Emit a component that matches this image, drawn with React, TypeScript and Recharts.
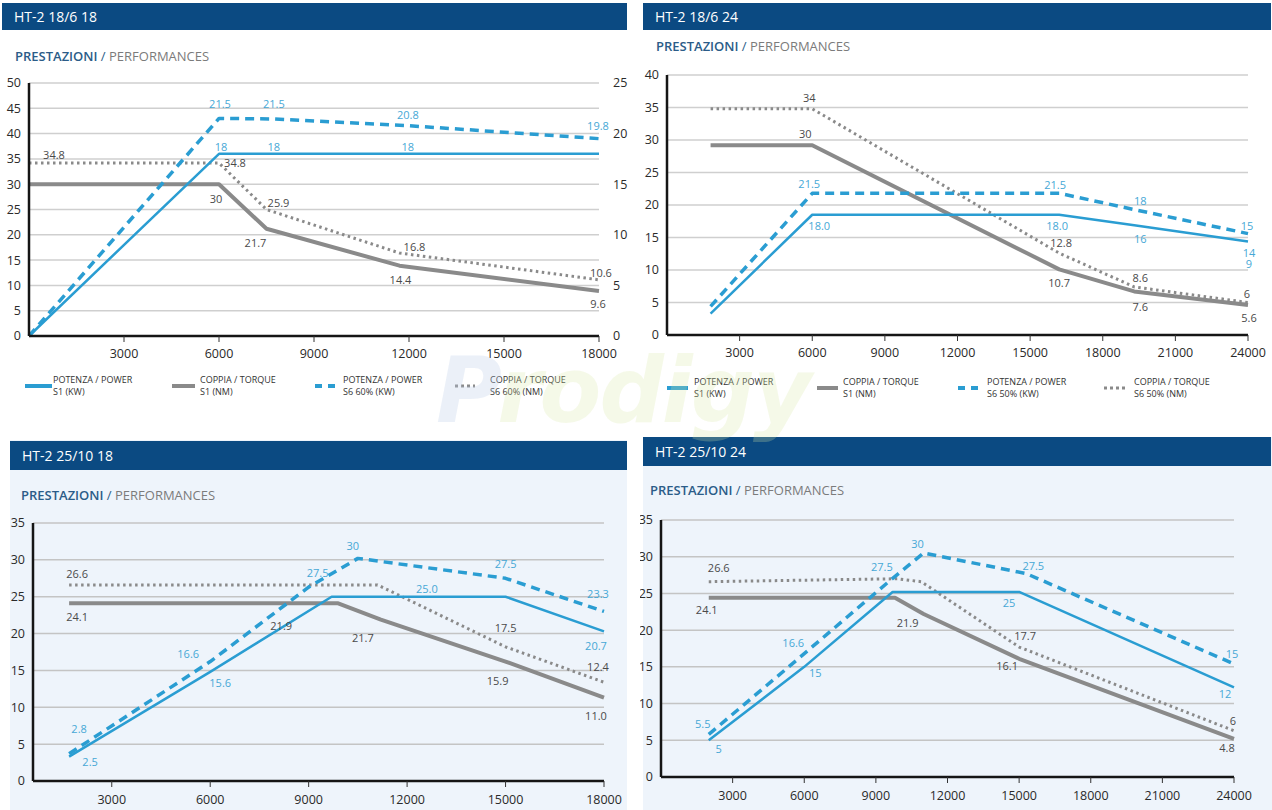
import React from 'react';
import { LineChart, Line, XAxis, YAxis, CartesianGrid } from 'recharts';

const FONT = "'Open Sans', 'DejaVu Sans', sans-serif";
const BLUE = '#2a9dd2';
const GRAY = '#8a8a8a';
const LBL_BLUE = '#46a8d6';
const LBL_GRAY = '#4a4a4a';
const NAVY = '#0b4a82';

// ---------- Panel A : HT-2 18/6 18 ----------
const A_TITLE = 'HT-2 18/6 18';
const A_X_TICKS = [3000, 6000, 9000, 12000, 15000, 18000];
const A_Y_TICKS = [0, 5, 10, 15, 20, 25, 30, 35, 40, 45, 50];
const A_Y2_TICKS = [0, 5, 10, 15, 20, 25];
const A_P1_X = [0, 6000, 7700, 11900, 18000];
const A_P1_Y = [0, 18, 18, 18, 18];
const A_P1_L = ['', '18', '18', '18', ''];
const A_P6_X = [0, 6000, 7700, 11900, 18000];
const A_P6_Y = [0, 21.5, 21.45, 20.8, 19.5];
const A_P6_L = ['', '21.5', '21.5', '20.8', '19.8'];
const A_T1_X = [0, 6000, 7500, 11700, 18000];
const A_T1_Y = [30, 30, 21.2, 13.9, 8.9];
const A_T1_L = ['', '30', '21.7', '14.4', '9.6'];
const A_T6_X = [0, 6000, 7500, 11700, 18000];
const A_T6_Y = [34.2, 34.2, 25.0, 16.4, 11.1];
const A_T6_L = ['34.8', '34.8', '25.9', '16.8', '10.6'];

// ---------- Panel B : HT-2 18/6 24 ----------
const B_TITLE = 'HT-2 18/6 24';
const B_X_TICKS = [3000, 6000, 9000, 12000, 15000, 18000, 21000, 24000];
const B_Y_TICKS = [0, 5, 10, 15, 20, 25, 30, 35, 40];
const B_RPM = [1800, 6000, 16200, 19300, 24000];
const B_P1_Y = [3.3, 18.5, 18.5, 16.9, 14.4];
const B_P1_L = ['', '18.0', '18.0', '16', '14\n9'];
const B_P6_Y = [4.4, 21.8, 21.8, 19.3, 15.6];
const B_P6_L = ['', '21.5', '21.5', '18', '15'];
const B_T1_Y = [29.2, 29.2, 10.1, 6.7, 4.6];
const B_T1_L = ['', '30', '10.7', '7.6', '5.6'];
const B_T6_Y = [34.8, 34.8, 12.6, 7.4, 5.0];
const B_T6_L = ['', '34', '12.8', '8.6', '6'];

// ---------- Panel C : HT-2 25/10 18 ----------
const C_TITLE = 'HT-2 25/10 18';
const C_X_TICKS = [3000, 6000, 9000, 12000, 15000, 18000];
const C_Y_TICKS = [0, 5, 10, 15, 20, 25, 30, 35];
const C_P1_X = [1700, 6000, 9700, 12600, 15000, 18000];
const C_P1_Y = [3.3, 14.8, 25, 25, 25, 20.3];
const C_P1_L = ['2.5', '15.6', '', '25.0', '', '20.7'];
const C_P6_X = [1700, 6000, 9000, 10500, 15000, 18000];
const C_P6_Y = [3.7, 16.2, 26.3, 30.2, 27.5, 23.0];
const C_P6_L = ['2.8', '16.6', '27.5', '30', '27.5', '23.3'];
const C_T1_X = [1700, 9900, 11200, 15000, 18000];
const C_T1_Y = [24.1, 24.1, 21.9, 16.2, 11.3];
const C_T1_L = ['24.1', '21.9', '21.7', '15.9', '11.0'];
const C_T6_X = [1700, 11100, 15000, 18000];
const C_T6_Y = [26.6, 26.6, 18.2, 13.4];
const C_T6_L = ['26.6', '', '17.5', '12.4'];

// ---------- Panel D : HT-2 25/10 24 ----------
const D_TITLE = 'HT-2 25/10 24';
const D_X_TICKS = [3000, 6000, 9000, 12000, 15000, 18000, 21000, 24000];
const D_Y_TICKS = [0, 5, 10, 15, 20, 25, 30, 35];
const D_P1_X = [2000, 6000, 9700, 15000, 24000];
const D_P1_Y = [5.0, 15.0, 25.2, 25.2, 12.2];
const D_P1_L = ['5', '15', '', '25', '12'];
const D_P6_X = [2000, 6000, 9500, 11000, 15300, 24000];
const D_P6_Y = [5.8, 16.8, 26.5, 30.5, 27.7, 15.4];
const D_P6_L = ['5.5', '16.6', '27.5', '30', '27.5', '15'];
const D_T1_X = [2000, 9800, 11000, 15000, 24000];
const D_T1_Y = [24.4, 24.4, 22.2, 16.1, 5.2];
const D_T1_L = ['24.1', '', '21.9', '16.1', '4.8'];
const D_T6_X = [2000, 9900, 10900, 15000, 24000];
const D_T6_Y = [26.6, 27.0, 26.6, 17.7, 6.3];
const D_T6_L = ['26.6', '', '', '17.7', '6'];

// Legend texts
const LEG_A = [
  ['POTENZA / POWER', 'S1 (KW)'],
  ['COPPIA / TORQUE', 'S1 (NM)'],
  ['POTENZA / POWER', 'S6 60% (KW)'],
  ['COPPIA / TORQUE', 'S6 60% (NM)'],
];
const LEG_B = [
  ['POTENZA / POWER', 'S1 (KW)'],
  ['COPPIA / TORQUE', 'S1 (NM)'],
  ['POTENZA / POWER', 'S6 50% (KW)'],
  ['COPPIA / TORQUE', 'S6 50% (NM)'],
];

// ---------- label placement (pixel offsets, style only) ----------
const A_P1_O = [[0, 0], [2, -8], [1, -8], [2, -8], [0, 0]];
const A_P6_O = [[0, 0], [1, -15], [1, -16], [2, -12], [-1, -14]];
const A_T1_O = [[0, 0], [-3, 14], [-11, 13], [1, 13], [-1, 12]];
const A_T6_O = [[25, -9], [16, -1], [12, -8], [15, -7], [2, -8]];
const B_P1_O = [[0, 0], [7, 10], [-2, 10], [6, 13], [1, 11]];
const B_P6_O = [[0, 0], [-3, -10], [-4, -9], [6, -10], [-1, -9]];
const B_T1_O = [[0, 0], [-7, -12], [0, 13], [6, 15], [1, 12]];
const B_T6_O = [[0, 0], [-3, -12], [2, -11], [6, -10], [-1, -10]];
const C_P1_O = [[21, 4], [10, 10], [0, 0], [0, -9], [0, 0], [-8, 14]];
const C_P6_O = [[10, -26], [-22, -9], [9, -15], [-5, -13], [0, -15], [-6, -18]];
const C_T1_O = [[8, 13], [-57, 22], [-18, 17], [-8, 18], [-8, 17]];
const C_T6_O = [[8, -12], [0, 0], [0, -20], [-6, -16]];
const D_P1_O = [[10, 8], [11, 5], [0, 0], [-10, 10], [-9, 6]];
const D_P6_O = [[-6, -11], [-11, -12], [-6, -16], [-6, -10], [7, -9], [-2, -11]];
const D_T1_O = [[-2, 11], [0, 0], [-16, 8], [-12, 6], [-7, 8]];
const D_T6_O = [[10, -15], [0, 0], [0, 0], [6, -12], [-1, -11]];

type Kind = 'p1' | 't1' | 'p6' | 't6';
interface S {
  kind: Kind;
  xs: number[];
  ys: number[];
  labels: string[];
  offs: number[][];
  yAxisId?: string | number;
}

const STYLE: Record<Kind, { stroke: string; strokeWidth: number; dash?: string; lbl: string }> = {
  p1: { stroke: BLUE, strokeWidth: 2.5, lbl: LBL_BLUE },
  t1: { stroke: GRAY, strokeWidth: 4, lbl: LBL_GRAY },
  p6: { stroke: BLUE, strokeWidth: 3.5, dash: '9 6', lbl: LBL_BLUE },
  t6: { stroke: GRAY, strokeWidth: 3, dash: '2.5 3.5', lbl: LBL_GRAY },
};

function labelDot(s: S) {
  const color = STYLE[s.kind].lbl;
  return (p: any) => {
    const { cx, cy, index } = p;
    const t = s.labels[index];
    if (!t || cx == null || cy == null) return <g key={`e${index}`} />;
    const [dx, dy] = s.offs[index] || [0, 0];
    const parts = t.split('\n');
    return (
      <text
        key={`t${index}`}
        x={cx + dx}
        y={cy + dy}
        textAnchor="middle"
        dominantBaseline="central"
        fill={color}
        fontSize={11}
        fontFamily={FONT}
      >
        {parts.map((q, i) => (
          <tspan key={i} x={cx + dx} dy={i === 0 ? 0 : 11}>
            {q}
          </tspan>
        ))}
      </text>
    );
  };
}

function lines(series: S[]) {
  return series.map((s, i) => {
    const st = STYLE[s.kind];
    const data = s.xs.map((x, j) => ({ x, y: s.ys[j] }));
    return (
      <Line
        key={i}
        data={data}
        dataKey="y"
        type="linear"
        yAxisId={s.yAxisId ?? 0}
        stroke={st.stroke}
        strokeWidth={st.strokeWidth}
        strokeDasharray={st.dash}
        dot={labelDot(s)}
        activeDot={false}
        isAnimationActive={false}
        strokeLinejoin="round"
      />
    );
  });
}

const tickStyle = { fill: '#2a2a2a', fontSize: 12.5, fontFamily: FONT };
const axisLineStyle = { stroke: '#151515', strokeWidth: 2.5 };

function Header({ left, top, width, height, title }: any) {
  return (
    <div
      style={{
        position: 'absolute',
        left,
        top,
        width,
        height,
        background: NAVY,
        color: '#fff',
        fontFamily: FONT,
        fontSize: 14,
        lineHeight: `${height}px`,
        paddingLeft: 12,
        boxSizing: 'border-box',
        whiteSpace: 'nowrap',
      }}
    >
      {title}
    </div>
  );
}

function Subtitle({ left, top }: any) {
  return (
    <div
      style={{
        position: 'absolute',
        left,
        top,
        fontFamily: FONT,
        fontSize: 13,
        lineHeight: '16px',
        whiteSpace: 'nowrap',
      }}
    >
      <span style={{ color: '#2b5c88', fontWeight: 600 }}>PRESTAZIONI</span>
      <span style={{ color: '#2b5c88' }}> / </span>
      <span style={{ color: '#7b7b7b' }}>PERFORMANCES</span>
    </div>
  );
}

function LegendIcon({ kind, width }: { kind: Kind; width: number }) {
  const st = STYLE[kind];
  const dash = kind === 'p6' ? '7 6' : kind === 't6' ? '3 3' : undefined;
  return (
    <svg width={width} height={6} style={{ display: 'block' }}>
      <line x1={0} y1={3} x2={width} y2={3} stroke={st.stroke} strokeWidth={kind === 't6' ? 3 : 4} strokeDasharray={dash} />
    </svg>
  );
}

function Legend({ items, iconX, iconW, textX, top }: any) {
  const kinds: Kind[] = ['p1', 't1', 'p6', 't6'];
  return (
    <>
      {items.map((it: string[], i: number) => (
        <React.Fragment key={i}>
          <div style={{ position: 'absolute', left: iconX[i], top: top + 9 }}>
            <LegendIcon kind={kinds[i]} width={iconW[i]} />
          </div>
          <div
            style={{
              position: 'absolute',
              left: textX[i],
              top: top,
              fontFamily: FONT,
              fontSize: 9,
              lineHeight: '12px',
              color: '#333',
              whiteSpace: 'nowrap',
            }}
          >
            <div>{it[0]}</div>
            <div>{it[1]}</div>
          </div>
        </React.Fragment>
      ))}
    </>
  );
}

export default function App() {
  const seriesA: S[] = [
    { kind: 't1', xs: A_T1_X, ys: A_T1_Y, labels: A_T1_L, offs: A_T1_O },
    { kind: 't6', xs: A_T6_X, ys: A_T6_Y, labels: A_T6_L, offs: A_T6_O },
    { kind: 'p1', xs: A_P1_X, ys: A_P1_Y, labels: A_P1_L, offs: A_P1_O, yAxisId: 'r' },
    { kind: 'p6', xs: A_P6_X, ys: A_P6_Y, labels: A_P6_L, offs: A_P6_O, yAxisId: 'r' },
  ];
  const seriesB: S[] = [
    { kind: 't1', xs: B_RPM, ys: B_T1_Y, labels: B_T1_L, offs: B_T1_O },
    { kind: 't6', xs: B_RPM, ys: B_T6_Y, labels: B_T6_L, offs: B_T6_O },
    { kind: 'p1', xs: B_RPM, ys: B_P1_Y, labels: B_P1_L, offs: B_P1_O },
    { kind: 'p6', xs: B_RPM, ys: B_P6_Y, labels: B_P6_L, offs: B_P6_O },
  ];
  const seriesC: S[] = [
    { kind: 't1', xs: C_T1_X, ys: C_T1_Y, labels: C_T1_L, offs: C_T1_O },
    { kind: 't6', xs: C_T6_X, ys: C_T6_Y, labels: C_T6_L, offs: C_T6_O },
    { kind: 'p1', xs: C_P1_X, ys: C_P1_Y, labels: C_P1_L, offs: C_P1_O },
    { kind: 'p6', xs: C_P6_X, ys: C_P6_Y, labels: C_P6_L, offs: C_P6_O },
  ];
  const seriesD: S[] = [
    { kind: 't1', xs: D_T1_X, ys: D_T1_Y, labels: D_T1_L, offs: D_T1_O },
    { kind: 't6', xs: D_T6_X, ys: D_T6_Y, labels: D_T6_L, offs: D_T6_O },
    { kind: 'p1', xs: D_P1_X, ys: D_P1_Y, labels: D_P1_L, offs: D_P1_O },
    { kind: 'p6', xs: D_P6_X, ys: D_P6_Y, labels: D_P6_L, offs: D_P6_O },
  ];

  const xAxisCommon = {
    type: 'number' as const,
    dataKey: 'x',
    interval: 0 as const,
    tickSize: 6,
    axisLine: axisLineStyle,
    tickLine: { stroke: '#333', strokeWidth: 1 },
    tick: tickStyle,
  };
  const yAxisCommon = {
    type: 'number' as const,
    interval: 0 as const,
    tickSize: 6,
    tickMargin: 2,
    tickLine: false,
    axisLine: axisLineStyle,
    tick: tickStyle,
  };

  return (
    <div style={{ position: 'absolute', left: 0, top: 0, width: 1272, height: 810, background: '#fff', overflow: 'hidden' }}>
      {/* backgrounds for the lower panels */}
      <div style={{ position: 'absolute', left: 10, top: 440, width: 617, height: 370, background: '#eef4fb' }} />
      <div style={{ position: 'absolute', left: 643, top: 437, width: 629, height: 373, background: '#eef4fb' }} />

      {/* Panel A */}
      <Header left={2} top={3} width={625} height={27} title={A_TITLE} />
      <Subtitle left={15} top={48} />
      <div style={{ position: 'absolute', left: 0, top: 70 }}>
        <LineChart width={640} height={300} margin={{ top: 13, left: 0, right: 11, bottom: 4 }}>
          <CartesianGrid vertical={false} stroke="#cfcfcf" strokeWidth={1.5} />
          <XAxis {...xAxisCommon} domain={[0, 18000]} ticks={A_X_TICKS} height={30} tickMargin={7} />
          <YAxis {...yAxisCommon} domain={[0, 50]} ticks={A_Y_TICKS} width={29} />
          <YAxis
            yAxisId="r"
            orientation="right"
            type="number"
            domain={[0, 25]}
            ticks={A_Y2_TICKS}
            interval={0}
            width={30}
            axisLine={false}
            tickLine={false}
            tickSize={6}
            tickMargin={8}
            tick={tickStyle}
          />
          {lines(seriesA)}
        </LineChart>
      </div>
      <Legend items={LEG_A} iconX={[25, 172, 315, 455]} iconW={[27, 23, 20, 20]} textX={[53, 200, 343, 490]} top={374} />

      {/* Panel B */}
      <Header left={643} top={3} width={628} height={27} title={B_TITLE} />
      <Subtitle left={656} top={38} />
      <div style={{ position: 'absolute', left: 640, top: 60 }}>
        <LineChart width={632} height={310} margin={{ top: 15, left: 0, right: 24, bottom: 5 }}>
          <CartesianGrid vertical={false} stroke="#cfcfcf" strokeWidth={1.5} />
          <XAxis {...xAxisCommon} domain={[0, 24000]} ticks={B_X_TICKS} height={30} tickMargin={7} />
          <YAxis {...yAxisCommon} domain={[0, 40]} ticks={B_Y_TICKS} width={27} />
          {lines(seriesB)}
        </LineChart>
      </div>
      <Legend items={LEG_B} iconX={[667, 817, 958, 1104]} iconW={[21, 21, 23, 24]} textX={[694, 843, 987, 1134]} top={376} />

      {/* Panel C */}
      <Header left={10} top={441} width={617} height={29} title={C_TITLE} />
      <Subtitle left={21} top={487} />
      <div style={{ position: 'absolute', left: 0, top: 510 }}>
        <LineChart width={640} height={300} margin={{ top: 13, left: 0, right: 36, bottom: 4 }}>
          <CartesianGrid vertical={false} stroke="#c4c4c4" strokeWidth={1.5} />
          <XAxis {...xAxisCommon} domain={[600, 18000]} ticks={C_X_TICKS} height={25} tickMargin={8} />
          <YAxis {...yAxisCommon} domain={[0, 35]} ticks={C_Y_TICKS} width={33} />
          {lines(seriesC)}
        </LineChart>
      </div>

      {/* Panel D */}
      <Header left={643} top={437} width={628} height={29} title={D_TITLE} />
      <Subtitle left={650} top={482} />
      <div style={{ position: 'absolute', left: 640, top: 505 }}>
        <LineChart width={632} height={300} margin={{ top: 15, left: 0, right: 38, bottom: 4 }}>
          <CartesianGrid vertical={false} stroke="#c4c4c4" strokeWidth={1.5} />
          <XAxis {...xAxisCommon} domain={[0, 24000]} ticks={D_X_TICKS} height={24} tickMargin={8} />
          <YAxis {...yAxisCommon} domain={[0, 35]} ticks={D_Y_TICKS} width={21} />
          {lines(seriesD)}
        </LineChart>
      </div>

      {/* faint watermark */}
      <div
        style={{
          position: 'absolute',
          left: 436,
          top: 336,
          fontFamily: "'DejaVu Sans', sans-serif",
          fontWeight: 700,
          fontStyle: 'italic',
          fontSize: 90,
          lineHeight: '110px',
          whiteSpace: 'nowrap',
          pointerEvents: 'none',
          letterSpacing: -2,
        }}
      >
        <span style={{ color: 'rgba(190,205,232,0.3)' }}>P</span>
        <span style={{ color: 'rgba(215,232,165,0.25)' }}>rodigy</span>
      </div>
    </div>
  );
}
